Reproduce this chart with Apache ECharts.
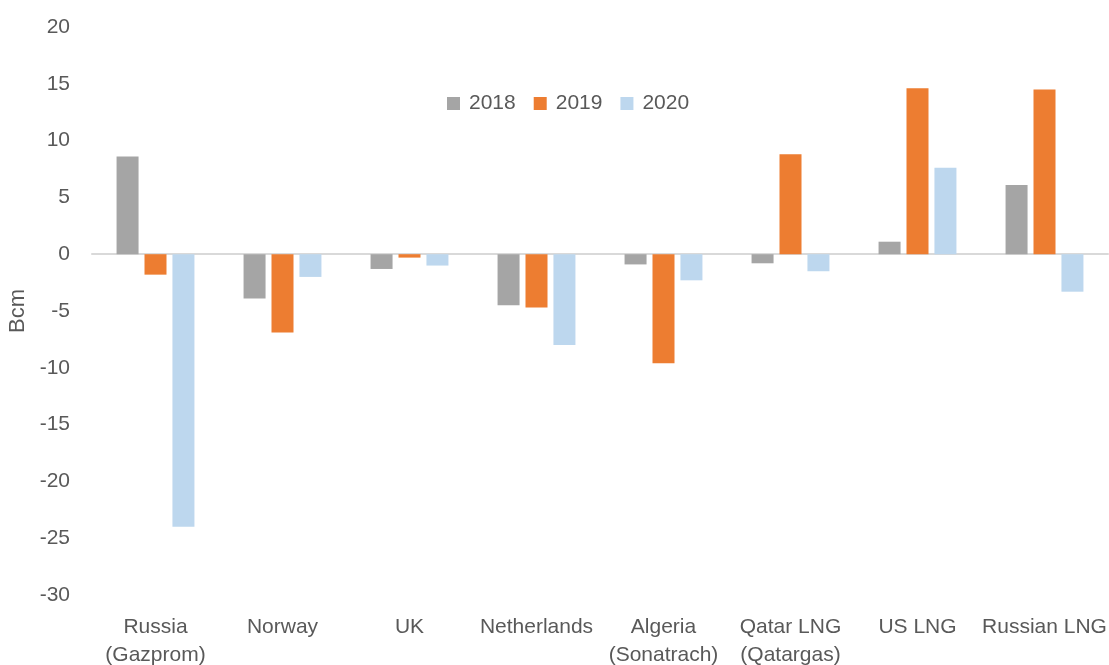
<!DOCTYPE html>
<html>
<head>
<meta charset="utf-8">
<script src="https://cdn.jsdelivr.net/npm/echarts@6/dist/echarts.min.js"></script>
<style>
  html, body { margin: 0; padding: 0; background: #fff; }
  #chart { width: 1109px; height: 665px; }
</style>
</head>
<body>
<div id="chart"></div>
<script>
// 数据
const categories = ['Russia\n(Gazprom)', 'Norway', 'UK', 'Netherlands', 'Algeria\n(Sonatrach)', 'Qatar LNG\n(Qatargas)', 'US LNG', 'Russian LNG']
const values2018 = [8.6, -3.9, -1.3, -4.5, -0.9, -0.8, 1.1, 6.1]
const values2019 = [-1.8, -6.9, -0.3, -4.7, -9.6, 8.8, 14.6, 14.5]
const values2020 = [-24.0, -2.0, -1.0, -8.0, -2.3, -1.5, 7.6, -3.3]
const yTicks = { min: -30, max: 20, interval: 5 }

const textColor = '#595959'
const fontFamily = '"Liberation Sans", Arial, sans-serif'

const chart = echarts.init(document.getElementById('chart'))

const makeSeries = (name, data, color) => ({
  name: name,
  type: 'bar',
  data: data,
  barWidth: 22,
  barGap: '27%',
  itemStyle: { color: color },
})

const option = {
  animation: false,
  textStyle: { fontFamily: fontFamily },
  legend: {
    left: 442,
    top: 88,
    itemWidth: 13,
    itemHeight: 13,
    itemGap: 18,
    icon: 'rect',
    textStyle: { fontSize: 21, color: textColor, fontFamily: fontFamily, padding: [0, 0, 0, 4] },
    data: ['2018', '2019', '2020'],
  },
  grid: {
    left: 92,
    right: 1,
    top: 27,
    bottom: 70,
    outerBoundsMode: 'none',
    containLabel: false,
  },
  xAxis: {
    type: 'category',
    data: categories,
    axisLine: { onZero: true, lineStyle: { color: '#D9D9D9', width: 2 } },
    axisTick: { show: false },
    axisLabel: {
      interval: 0,
      margin: 18,
      fontSize: 21,
      lineHeight: 28,
      color: textColor,
      fontFamily: fontFamily,
      verticalAlign: 'top',
    },
    position: 'bottom',
  },
  yAxis: {
    type: 'value',
    min: yTicks.min,
    max: yTicks.max,
    interval: yTicks.interval,
    name: 'Bcm',
    nameLocation: 'middle',
    nameGap: 63,
    nameTextStyle: { fontSize: 22, color: textColor, fontFamily: fontFamily },
    axisLine: { show: false },
    axisTick: { show: false },
    splitLine: { show: false },
    axisLabel: { fontSize: 21, color: textColor, margin: 22, fontFamily: fontFamily },
  },
  series: [
    makeSeries('2018', values2018, '#A5A5A5'),
    makeSeries('2019', values2019, '#ED7D31'),
    makeSeries('2020', values2020, '#BDD7EE'),
  ],
}

chart.setOption(option)
window.addEventListener('resize', () => chart.resize())
</script>
</body>
</html>
